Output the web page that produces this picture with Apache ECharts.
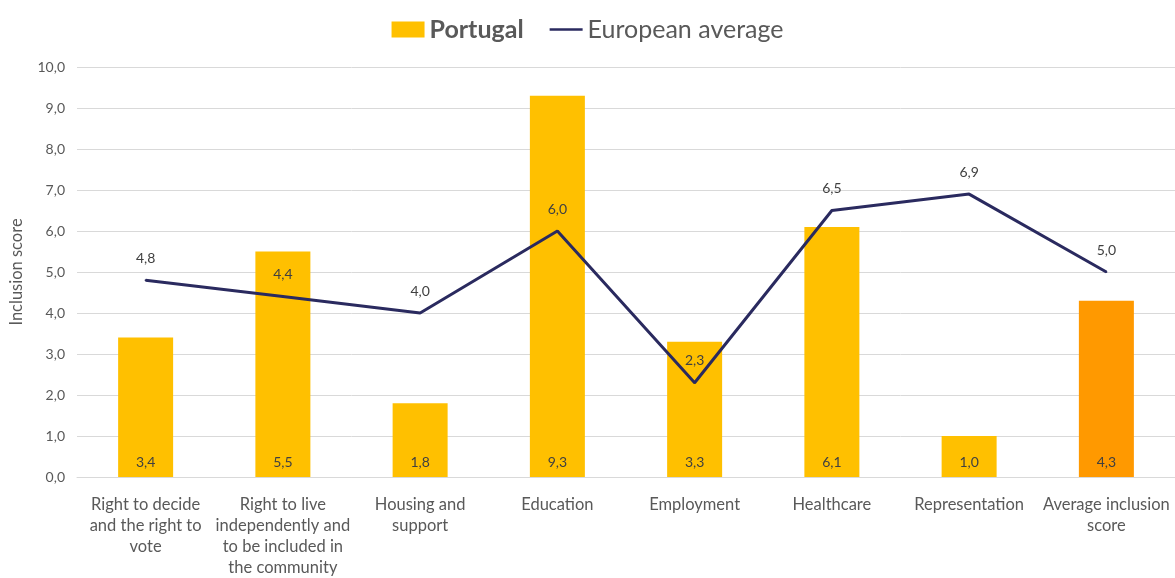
<!DOCTYPE html>
<html><head><meta charset="utf-8">
<script src="https://cdn.jsdelivr.net/npm/echarts@6/dist/echarts.min.js"></script>
<style>html,body{margin:0;padding:0;background:#fff}#c{width:1175px;height:578px}</style>
</head><body><div id="c"></div>
<script>
const categories = ["Right to decide\nand the right to\nvote", "Right to live\nindependently and\nto be included in\nthe community", "Housing and\nsupport", "Education", "Employment", "Healthcare", "Representation", "Average inclusion\nscore"];
const portugal = [3.4, 5.5, 1.8, 9.3, 3.3, 6.1, 1.0, 4.3];
const europeanAverage = [4.8, 4.4, 4.0, 6.0, 2.3, 6.5, 6.9, 5.0];
const yTicks = [0, 1, 2, 3, 4, 5, 6, 7, 8, 9, 10];

const FONT = "Lato, 'Open Sans', sans-serif";
const fmt = v => Number(v).toFixed(1).replace('.', ',');
const chart = echarts.init(document.getElementById('c'));
chart.setOption({
  animation: false,
  textStyle: {fontFamily: FONT},
  legend: {
    top: 12, left: 'center', itemGap: 26, itemWidth: 33, itemHeight: 16,
    textStyle: {fontSize: 25, color: '#595959', fontFamily: FONT},
    data: [
      {name: 'Portugal', icon: 'rect', textStyle: {fontWeight: 'bold'}},
      {name: 'European average', icon: 'path://M0,0 L40,0 L40,3 L0,3 Z', itemStyle: {color: '#2a2a5f', opacity: 1}}
    ]
  },
  grid: {left: 74, right: 0, top: 67, bottom: 95},
  xAxis: {
    type: 'category', data: categories,
    axisTick: {show: false},
    axisLine: {lineStyle: {color: '#d9d9d9'}},
    axisLabel: {interval: 0, color: '#595959', fontSize: 16.5, lineHeight: 21, margin: 17, fontFamily: FONT}
  },
  yAxis: {
    type: 'value', min: yTicks[0], max: yTicks[yTicks.length - 1], interval: 1,
    name: 'Inclusion score', nameLocation: 'middle', nameGap: 52,
    nameTextStyle: {color: '#595959', fontSize: 16.5, fontFamily: FONT},
    axisLine: {show: false}, axisTick: {show: false},
    splitLine: {lineStyle: {color: '#d9d9d9'}},
    axisLabel: {color: '#595959', fontSize: 14, margin: 12, formatter: fmt}
  },
  series: [
    {
      name: 'Portugal', type: 'bar', barWidth: 55,
      itemStyle: {color: '#ffc000'},
      data: portugal.map((v, i) => i === portugal.length - 1 ? {value: v, itemStyle: {color: '#ff9900'}} : v),
      label: {show: true, position: 'insideBottom', distance: 8, color: '#404040', fontSize: 14, formatter: p => fmt(p.value)},
      z: 2
    },
    {
      name: 'European average', type: 'line', data: europeanAverage,
      symbol: 'circle', symbolSize: 2, showSymbol: true,
      lineStyle: {color: '#2a2a5f', width: 3},
      itemStyle: {color: '#2a2a5f'},
      label: {show: true, position: 'top', distance: 14, color: '#404040', fontSize: 14, formatter: p => fmt(p.value)},
      z: 3
    }
  ]
});
</script></body></html>
